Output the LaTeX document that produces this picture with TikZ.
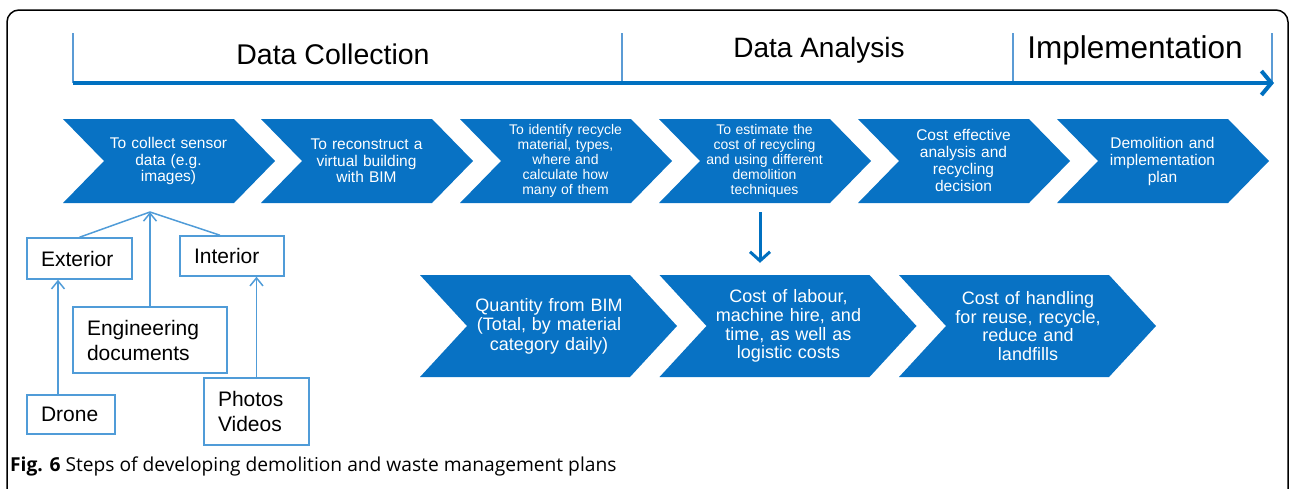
\documentclass[tikz,border=0pt]{standalone}
\usepackage{fontspec}
\setmainfont{Liberation Sans}
\newfontfamily\capfont{Open Sans}
\usetikzlibrary{arrows.meta}
\definecolor{chevblue}{RGB}{8,114,196}
\definecolor{lineblue}{RGB}{0,112,192}
\definecolor{tickblue}{RGB}{91,155,213}
\definecolor{treeblue}{RGB}{80,156,216}
% chevron: left x, top y, body width, height, point depth
\newcommand{\chevron}[5]{%
  \fill[chevblue] (#1,#2) -- ++(#3,0) -- ++(#5,#4/2) -- ++(-#5,#4/2) -- ++(-#3,0) -- ++(#5,-#4/2) -- cycle;}
\begin{document}
\begin{tikzpicture}[x=1pt,y=-1pt,
  ctext/.style={text=white,align=center,inner sep=0pt},
  rowone/.style={ctext,text width=130pt,minimum height=84pt},
  rowtwo/.style={ctext,text width=160pt,minimum height=102pt},
  srcbox/.style={draw=treeblue,line width=1.5pt,inner xsep=14pt,inner ysep=0pt,align=left,font=\fontsize{21}{25}\selectfont},
  treearr/.style={treeblue,line width=1.5pt,-{Straight Barb[length=8pt,width=13pt]}},
  tick/.style={tickblue,line width=1.2pt},
  timeline/.style={lineblue,line width=4pt,-{Straight Barb[length=10pt,width=24pt]}},
  downarr/.style={lineblue,line width=3pt,-{Straight Barb[length=9pt,width=20pt]}}]
\useasboundingbox (0,0) rectangle (1290,488);
\draw[black,line width=1.5pt,rounded corners=12pt] (7,520) -- (7,10) -- (1288,10) -- (1288,520);

\draw[tick] (73,33) -- (73,83);
\draw[tick] (622,33) -- (622,83);
\draw[tick] (1013,33) -- (1013,83);
\draw[tick] (1272,33) -- (1272,83);
\coordinate (tlstart) at (73,83);
\coordinate (tlend) at (1274,83);
\draw[timeline] (tlstart) -- (tlend);
\node[font=\fontsize{28.5}{30}\selectfont] (dcol) at (333,54) {Data Collection};
\node[font=\fontsize{28}{30}\selectfont] (dana) at (819,50) {Data Analysis};
\node[font=\fontsize{31.5}{33}\selectfont] (impl) at (1135,50) {Implementation};

\chevron{63}{119}{171}{84}{41}
\chevron{261}{119}{171}{84}{41}
\chevron{460}{119}{171}{84}{41}
\chevron{659}{119}{171}{84}{41}
\chevron{858}{119}{171}{84}{41}
\chevron{1057}{119}{171}{84}{41}
\node[rowone,font=\fontsize{15.5}{16.7}\selectfont] (collect) at (168.5,161) {To collect sensor\\data (e.g.\\images)};
\node[rowone,font=\fontsize{15.5}{16.7}\selectfont] (recon) at (366.5,161) {To reconstruct a\\virtual building\\with BIM};
\node[rowone,font=\fontsize{14}{15}\selectfont] (ident) at (565.5,161) {To identify recycle\\material, types,\\where and\\calculate how\\many of them};
\node[rowone,font=\fontsize{14}{15}\selectfont] (estim) at (764.5,161) {To estimate the\\cost of recycling\\and using different\\demolition\\techniques};
\node[rowone,font=\fontsize{15.5}{17}\selectfont] (costeff) at (963.5,160) {Cost effective\\analysis and\\recycling\\decision};
\node[rowone,font=\fontsize{15.5}{17}\selectfont] (demol) at (1162.5,161) {Demolition and\\implementation\\plan};

\chevron{420}{275}{210}{102}{47}
\chevron{659.5}{275}{210}{102}{47}
\chevron{899}{275}{210}{102}{47}
\node[rowtwo,font=\fontsize{18}{19.5}\selectfont] (quant) at (549,326) {Quantity from BIM\\(Total, by material\\category daily)};
\node[rowtwo,font=\fontsize{18}{18.7}\selectfont] (labour) at (788.5,326) {Cost of labour,\\machine hire, and\\time, as well as\\logistic costs};
\node[rowtwo,font=\fontsize{18}{18.7}\selectfont] (handl) at (1028,326) {Cost of handling\\for reuse, recycle,\\reduce and\\landfills};
\draw[downarr,shorten >=12pt] ([xshift=-4.5pt,yshift=-9pt]estim.south) -- ([xshift=-4.5pt]estim.south |- labour.north);

\node[srcbox,text width=77pt,minimum height=41pt] (ext) at (79.5,258.5) {Exterior};
\node[srcbox,text width=76pt,minimum height=40pt] (inter) at (232,256) {Interior};
\node[srcbox,text width=126pt,minimum height=66pt] (eng) at (150,340) {Engineering\\documents};
\node[srcbox,text width=60pt,minimum height=39pt] (drone) at (71,414.5) {Drone};
\node[srcbox,text width=77pt,minimum height=67pt] (photo) at (256.5,411.5) {Photos\\Videos};
\coordinate (apex) at (150,212);
\draw[treeblue,line width=1.5pt] (ext.north) -- (apex);
\draw[treeblue,line width=1.5pt] ([xshift=-12pt]inter.north) -- (apex);
\draw[treearr] (eng.north) -- (apex);
\draw[treearr] ([xshift=-13pt]drone.north) -- ([xshift=-13pt]drone.north |- ext.south);
\draw[treearr] (photo.north) -- (photo.north |- inter.south);

\node[anchor=base west,inner sep=0pt,font=\capfont\fontsize{19.2}{22}\selectfont] (caption) at (10,471) {\textbf{Fig. 6} Steps of developing demolition and waste management plans};
\end{tikzpicture}
\end{document}
